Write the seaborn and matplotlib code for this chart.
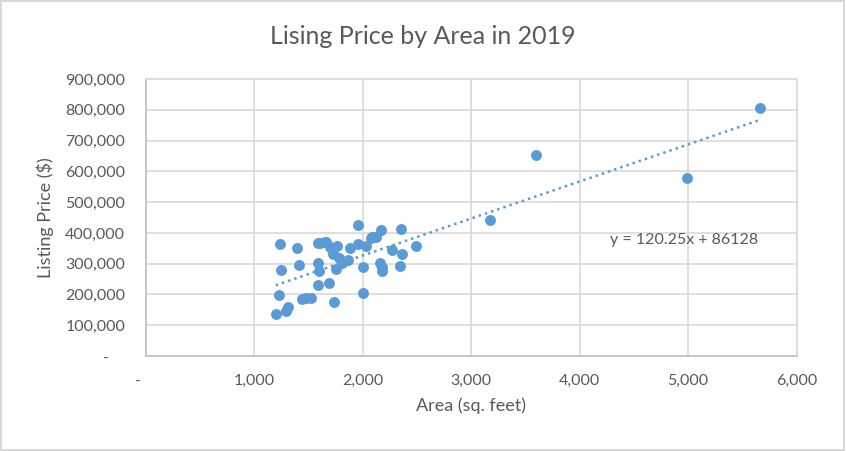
import numpy as np
import pandas as pd
import matplotlib
matplotlib.use('Agg')
import matplotlib.pyplot as plt
import seaborn as sns
from matplotlib.ticker import FuncFormatter, MultipleLocator
from matplotlib.patches import Rectangle

# Listing data
area = [1236, 1390, 1590, 1651, 1959, 2082, 2165, 2350, 2488, 2267,
        2359, 2343, 2159, 2174, 2174, 2005, 1999, 1242, 1411, 1590,
        1596, 1584, 1688, 1734, 1230, 1307, 1292, 1196, 1436, 1480,
        1519, 1697, 1765, 1728, 1784, 1805, 1866, 1753, 1882, 1959,
        2030, 2073, 2122, 1605, 1660, 3171, 3595, 4988, 5661]
price = [363000, 352000, 366000, 369000, 425000, 387000, 411000, 412000, 358000, 346000,
         333000, 293000, 301000, 290000, 277000, 290000, 206000, 279000, 295000, 301000,
         276000, 230000, 238000, 175000, 198000, 160000, 147000, 136000, 185000, 188000,
         190000, 353000, 358000, 331000, 317000, 301000, 312000, 282000, 350000, 363000,
         357000, 382000, 387000, 368000, 371000, 441600, 652600, 579000, 806000]

# Trendline from the chart's equation
slope = 120.25
intercept = 86128

df = pd.DataFrame({'Area': area, 'Price': price})

sns.set_theme(style='white')
plt.rcParams['font.family'] = ['Lato', 'DejaVu Sans']

blue = '#5B9BD5'
grid = '#D9D9D9'
text_col = '#595959'

fig = plt.figure(figsize=(8.46, 4.51), dpi=100)
ax = fig.add_axes([0.1726, 0.2106, 0.7689, 0.6142])

sns.scatterplot(data=df, x='Area', y='Price', ax=ax, color=blue, s=62,
                edgecolor=blue, linewidth=0, zorder=3)

xs = np.array([df['Area'].min(), df['Area'].max()])
ax.plot(xs, slope * xs + intercept, linestyle=(0, (1, 1.6)), color=blue,
        linewidth=1.8, zorder=2)

ax.set_xlim(0, 6000)
ax.set_ylim(0, 900000)
ax.xaxis.set_major_locator(MultipleLocator(1000))
ax.yaxis.set_major_locator(MultipleLocator(100000))

fmt = FuncFormatter(lambda v, p: '-    ' if v == 0 else f'{v:,.0f}')
ax.xaxis.set_major_formatter(fmt)
ax.yaxis.set_major_formatter(fmt)

ax.grid(True, color=grid, linewidth=1.2)
ax.set_axisbelow(True)
for side in ['top', 'right']:
    ax.spines[side].set_color(grid)
    ax.spines[side].set_linewidth(1.2)
for side in ['left', 'bottom']:
    ax.spines[side].set_color('#BFBFBF')
    ax.spines[side].set_linewidth(1.2)

ax.tick_params(axis='both', length=0, labelsize=11.5, labelcolor=text_col)
ax.tick_params(axis='y', pad=15)
ax.tick_params(axis='x', pad=13)

ax.set_xlabel('Area (sq. feet)', fontsize=13, color=text_col, labelpad=7)
ax.set_ylabel('Listing Price ($)', fontsize=13, color=text_col, labelpad=8)

fig.text(0.5, 0.918, 'Lising Price by Area in 2019', ha='center', va='center',
         fontsize=18, color=text_col)

ax.text(4281, 377000, 'y = 120.25x + 86128', fontsize=11.5, color=text_col,
        va='center', ha='left')

fig.patches.append(Rectangle((0.001, 0.002), 0.997, 0.995, transform=fig.transFigure,
                             fill=False, edgecolor=grid, linewidth=1.5))

fig.savefig('out.png', dpi=100, facecolor='white')
